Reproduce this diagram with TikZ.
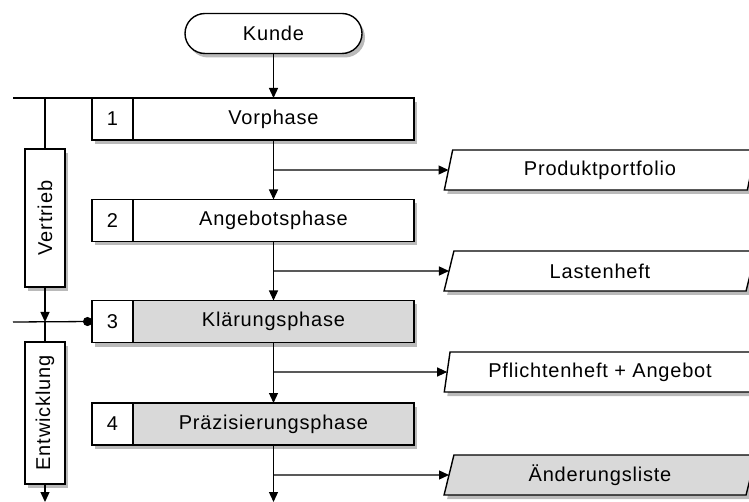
\documentclass[tikz,border=0pt]{standalone}
\usepackage{fontspec}
\setmainfont[LetterSpace=4]{Liberation Sans}
\usetikzlibrary{arrows.meta,shapes.geometric,shapes.misc,shadows,calc}
\definecolor{boxgray}{HTML}{D9D9D9}
\begin{document}
\begin{tikzpicture}[x=1pt,y=-1pt,
  every node/.style={font=\fontsize{20}{23}\selectfont, inner sep=0pt, outer sep=0pt},
  shad/.style={drop shadow={opacity=0.45, fill=black!60, shadow xshift=3pt, shadow yshift=-4pt}},
  cell/.style={draw, line width=1.4pt, minimum height=42pt, fill=white, shad},
  numcell/.style={cell, minimum width=41pt},
  namecell/.style={cell, minimum width=281pt},
  graycell/.style={namecell, fill=boxgray},
  doc/.style={trapezium, trapezium left angle=77, trapezium right angle=103,
    trapezium stretches=true, draw, line width=1.4pt, minimum width=312pt,
    minimum height=40pt, fill=white, shad},
  side/.style={draw, line width=1.4pt, minimum height=40pt, fill=white, shad, rotate=90},
  conn/.style={line width=1.3pt},
  arr/.style={conn, -{Triangle[length=10pt,width=9pt]}}
]
\useasboundingbox (0,0) rectangle (749,502);
\clip (0,0) rectangle (749,502);

% start
\node[rounded rectangle, draw, line width=1.4pt, minimum width=177pt, minimum height=40pt, fill=white, shad] (kunde) at (273.5,33.5) {Kunde};

% phases
\node[numcell] (n1) at (112.5,119) {1};
\node[namecell] (p1) at (273.5,119) {Vorphase};
\node[numcell] (n2) at (112.5,220.5) {2};
\node[namecell] (p2) at (273.5,220.5) {Angebotsphase};
\node[numcell] (n3) at (112.5,321.5) {3};
\node[graycell] (p3) at (273.5,321.5) {Klärungsphase};
\node[numcell] (n4) at (112.5,424) {4};
\node[graycell] (p4) at (273.5,424) {Präzisierungsphase};

% documents
\node[doc] (d1) at (600,170) {Produktportfolio};
\node[doc] (d2) at (600,271) {Lastenheft};
\node[doc] (d3) at (600,372) {Pflichtenheft + Angebot};
\node[doc, fill=boxgray] (d4) at (600,475) {Änderungsliste};

% side boxes
\node[side, minimum width=138pt] (vt) at (45,218) {Vertrieb};
\node[side, minimum width=142pt] (en) at (45,413) {Entwicklung};

% coordinates
\coordinate (tl) at (13,98);
\coordinate (jl) at (13,322);
\coordinate (endl) at (45,502);
\coordinate (endm) at (273.5,502);

% main flow
\draw[arr] (kunde.south) -- (kunde.south |- n1.north);
\draw[conn] (tl) -- (n1.north west);
\draw[arr] (p1.south) -- (p2.north);
\draw[arr] (p2.south) -- (p3.north);
\draw[arr] (p3.south) -- (p4.north);
\draw[arr] (p4.south) -- (endm);

% branches
\draw[arr] (p1.south |- d1) -- (d1);
\draw[arr] (p2.south |- d2) -- (d2);
\draw[arr] (p3.south |- d3) -- (d3);
\draw[arr] (p4.south |- d4) -- (d4);

% side flow
\draw[conn] (vt.east |- tl) -- (vt.east);
\draw[arr] (vt.west) -- (vt.west |- jl);
\draw[conn, -{Circle[length=9pt]}] (jl) -- (n3.west);
\draw[conn] (en.east |- jl) -- (en.east);
\draw[arr] (en.west) -- (endl);
\end{tikzpicture}
\end{document}
